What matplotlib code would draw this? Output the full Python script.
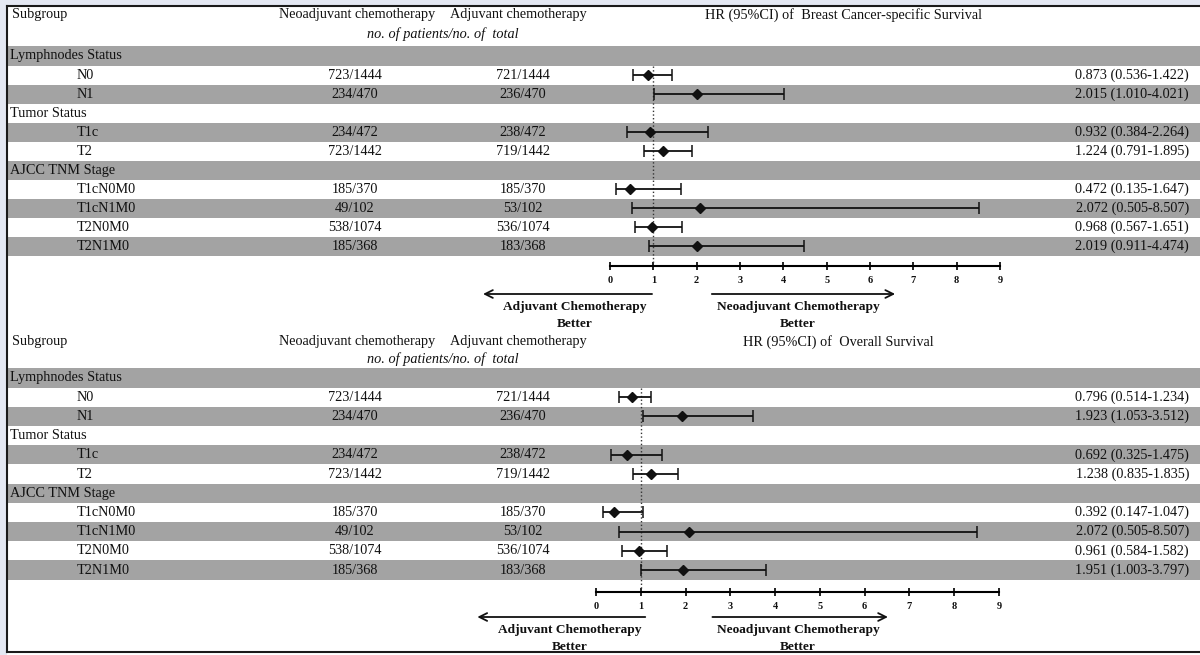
import matplotlib
matplotlib.use('Agg')
import matplotlib.pyplot as plt
import matplotlib.transforms as mtransforms
from matplotlib.lines import Line2D
from matplotlib.patches import Rectangle

plt.rcParams['font.family'] = ['Liberation Serif', 'DejaVu Serif']

W, H = 1200, 655

# table data
subgroups = ['Lymphnodes Status', 'N0', 'N1', 'Tumor Status', 'T1c', 'T2',
             'AJCC TNM Stage', 'T1cN0M0', 'T1cN1M0', 'T2N0M0', 'T2N1M0']
is_category = [True, False, False, True, False, False, True, False, False, False, False]
neo_counts = ['', '723/1444', '234/470', '', '234/472', '723/1442',
              '', '185/370', '49/102', '538/1074', '185/368']
adj_counts = ['', '721/1444', '236/470', '', '238/472', '719/1442',
              '', '185/370', '53/102', '536/1074', '183/368']

# breast cancer-specific survival
bcss_hr = [None, 0.873, 2.015, None, 0.932, 1.224, None, 0.472, 2.072, 0.968, 2.019]
bcss_lo = [None, 0.536, 1.010, None, 0.384, 0.791, None, 0.135, 0.505, 0.567, 0.911]
bcss_hi = [None, 1.422, 4.021, None, 2.264, 1.895, None, 1.647, 8.507, 1.651, 4.474]

# overall survival
os_hr = [None, 0.796, 1.923, None, 0.692, 1.238, None, 0.392, 2.072, 0.961, 1.951]
os_lo = [None, 0.514, 1.053, None, 0.325, 0.835, None, 0.147, 0.505, 0.584, 1.003]
os_hi = [None, 1.234, 3.512, None, 1.475, 1.835, None, 1.047, 8.507, 1.582, 3.797]

ticks = list(range(10))
band = '#a3a3a3'
ink = '#111111'
fs = 10.3

fig = plt.figure(figsize=(W / 100, H / 100), dpi=100, facecolor='#e4e8f3')
fig.add_artist(Rectangle((7 / W, 0), 1, 1 - 6 / H, transform=fig.transFigure,
                         facecolor='white', edgecolor='none', zorder=0))
for xs, ys in [([7 / W, 1], [1 - 6 / H] * 2), ([7 / W] * 2, [1 - 6 / H, 1 - 652 / H]),
               ([7 / W, 1], [1 - 652 / H] * 2)]:
    fig.add_artist(Line2D(xs, ys, transform=fig.transFigure, color='#1a1a1a', lw=1.5))


def fx(px):
    return px / W


def fy(px):
    return 1 - px / H


def draw_panel(title, hr, lo, hi, p):
    unit = (p['nine'] - p['zero']) / 9
    left = 8
    ax = fig.add_axes([left / W, fy(p['axis']), 1 - left / W, (p['axis'] - p['top']) / H])
    ax.set_facecolor('none')
    ax.set_xlim((left - p['zero']) / unit, (W - p['zero']) / unit)
    ax.set_ylim((p['axis'] - p['row0']) / p['step'], (p['top'] - p['row0']) / p['step'])

    def row(px):
        return (px - p['row0']) / p['step']

    for i in range(len(subgroups)):
        if i % 2 == 0:
            ax.axhspan(i - 0.5, i + 0.5, color=band, lw=0, zorder=0)

    tr = mtransforms.blended_transform_factory(fig.transFigure, ax.transData)
    # header
    ax.text(fx(12), row(p['head']), 'Subgroup', transform=tr, ha='left', va='center', fontsize=fs, color=ink)
    ax.text(fx(357), row(p['head']), 'Neoadjuvant chemotherapy', transform=tr, ha='center', va='center', fontsize=fs, color=ink)
    ax.text(fx(518), row(p['head']), 'Adjuvant chemotherapy', transform=tr, ha='center', va='center', fontsize=fs, color=ink)
    ax.text(fx(p['title_x']), row(p['head']), title, transform=tr, ha='left', va='center', fontsize=fs, color=ink)
    ax.text(fx(443), row(p['sub']), 'no. of patients/no. of  total', transform=tr, ha='center', va='center',
            fontsize=fs, style='italic', color=ink)

    for i, name in enumerate(subgroups):
        ax.text(fx(10 if is_category[i] else 77), i, name, transform=tr, ha='left', va='center',
                fontsize=fs, color=ink)
        if neo_counts[i]:
            ax.text(fx(355), i, neo_counts[i], transform=tr, ha='center', va='center', fontsize=fs, color=ink)
            ax.text(fx(523), i, adj_counts[i], transform=tr, ha='center', va='center', fontsize=fs, color=ink)
        if hr[i] is not None:
            ax.text(fx(1189), i, '%.3f (%.3f-%.3f)' % (hr[i], lo[i], hi[i]), transform=tr,
                    ha='right', va='center', fontsize=fs, color=ink)

    rows = [i for i in range(len(hr)) if hr[i] is not None]
    x = [hr[i] for i in rows]
    xerr = [[hr[i] - lo[i] for i in rows], [hi[i] - hr[i] for i in rows]]
    ax.errorbar(x, rows, xerr=xerr, fmt='D', ms=4.8, color=ink, ecolor=ink, elinewidth=1.3,
                capsize=4, capthick=1.1, zorder=3)

    ax.plot([1, 1], [0.5, ax.get_ylim()[0]], ls=':', lw=1.0, color='#333333', zorder=2)

    for s in ['top', 'left', 'right']:
        ax.spines[s].set_visible(False)
    ax.spines['bottom'].set_bounds(0, 9)
    ax.spines['bottom'].set_linewidth(1.5)
    ax.set_yticks([])
    ax.set_xticks(ticks)
    ax.set_xticklabels([str(t) for t in ticks], fontweight='bold')
    ax.tick_params(axis='x', direction='inout', length=6, width=1.3, labelsize=7.5, pad=4, colors=ink)

    ta = mtransforms.blended_transform_factory(ax.transData, fig.transFigure)
    for start, end in p['arrows']:
        ax.annotate('', xy=(end, fy(p['arrow'])), xytext=(start, fy(p['arrow'])), xycoords=ta,
                    textcoords=ta, annotation_clip=False,
                    arrowprops=dict(arrowstyle='->', lw=1.3, color=ink, mutation_scale=14,
                                    shrinkA=0, shrinkB=0))
    for cx, label in zip(p['label_x'], ['Adjuvant Chemotherapy', 'Neoadjuvant Chemotherapy']):
        ax.text(cx, fy(p['lab1']), label, transform=ta, ha='center', va='center',
                fontsize=9.6, fontweight='bold', color=ink)
        ax.text(cx, fy(p['lab2']), 'Better', transform=ta, ha='center', va='center',
                fontsize=9.6, fontweight='bold', color=ink)
    return ax


top_panel = dict(top=8, head=15, sub=34, row0=56, step=19.05, axis=266, zero=610, nine=1000,
                 arrow=294, lab1=307, lab2=324, title_x=705,
                 arrows=[(0.97, -2.93), (2.35, 6.58)], label_x=[-0.81, 4.34])
bottom_panel = dict(top=330, head=342, sub=359, row0=378, step=19.2, axis=592, zero=596, nine=999,
                    arrow=617, lab1=630, lab2=647, title_x=743,
                    arrows=[(1.1, -2.65), (2.6, 6.52)], label_x=[-0.58, 4.51])

draw_panel('HR (95%CI) of  Breast Cancer-specific Survival', bcss_hr, bcss_lo, bcss_hi, top_panel)
draw_panel('HR (95%CI) of  Overall Survival', os_hr, os_lo, os_hi, bottom_panel)

fig.savefig('out.png', dpi=100, facecolor=fig.get_facecolor())
